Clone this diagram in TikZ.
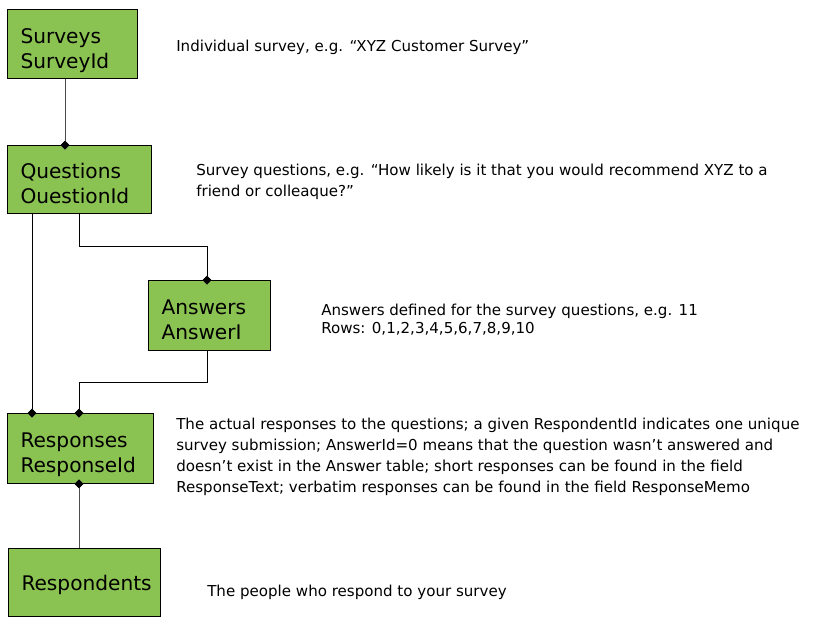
\documentclass[tikz,border=0pt]{standalone}
\usepackage{fontspec}
\setmainfont{DejaVu Sans}
\usetikzlibrary{arrows.meta}

\definecolor{tblgreen}{RGB}{139,195,82}
\tikzset{
  tbl/.style={draw, fill=tblgreen, line width=.75pt, anchor=north west, align=left,
    inner xsep=9.75pt, inner ysep=0pt, text depth=12.5pt, font=\fontsize{15.1}{18.75}\selectfont},
  note/.style={anchor=north west, align=left, inner sep=0pt, font=\fontsize{11.3}{15.75}\selectfont},
  link/.style={line width=.75pt, shorten >=-3.4pt, -{Diamond[length=6.75pt,width=6.75pt,color=black]}},
}

\begin{document}
\begin{tikzpicture}[x=.75pt,y=-.75pt]
  \useasboundingbox (0,0) rectangle (822,624);
  % tables
  \node[tbl, minimum width=97.5pt, minimum height=51.75pt, text width=78pt] (surveys) at (7,9) {Surveys\\SurveyId};
  \node[tbl, minimum width=108pt, minimum height=51pt, text width=88.5pt] (questions) at (7,145) {Questions\\OuestionId};
  \node[tbl, minimum width=91.5pt, minimum height=52.5pt, text width=72pt] (answers) at (148,280) {Answers\\AnswerI};
  \node[tbl, minimum width=109.5pt, minimum height=52.5pt, text width=90pt] (responses) at (7,413) {Responses\\ResponseId};
  \node[tbl, minimum width=114pt, minimum height=51pt, text width=94.5pt, text depth=0pt] (respondents) at (8,548) {Respondents};
  % notes
  \node[note] (nsurveys) at (176,40) {Individual survey, e.g. “XYZ Customer Survey”};
  \node[note] (nquestions) at (196,164) {Survey questions, e.g. “How likely is it that you would recommend XYZ to a\\friend or colleaque?”};
  \node[note, font=\fontsize{11.3}{13}\selectfont] (nanswers) at (321,304) {Answers defined for the survey questions, e.g. 11\\Rows: 0,1,2,3,4,5,6,7,8,9,10};
  \node[note] (nresponses) at (176,418) {The actual responses to the questions; a given RespondentId indicates one unique\\survey submission; AnswerId=0 means that the question wasn’t answered and\\doesn’t exist in the Answer table; short responses can be found in the field\\ResponseText; verbatim responses can be found in the field ResponseMemo};
  \node[note] (nrespondents) at (207,585) {The people who respond to your survey};
  % links
  \draw[link, draw=black!70] (surveys.south -| 65,0) -- (questions.north -| 65,0);
  \draw[link] (questions.south -| 79,0) -- (79,247) -| (answers.north -| 207,0);
  \draw[link] (questions.south -| 32,0) -- (responses.north -| 32,0);
  \draw[link] (answers.south -| 207,0) |- (79,382) -- (responses.north -| 79,0);
  \draw[link, draw=black!70, shorten >=0pt, shorten <=-3.4pt, {Diamond[length=6.75pt,width=6.75pt,color=black]}-] (responses.south -| 79,0) -- (respondents.north -| 79,0);
\end{tikzpicture}
\end{document}
